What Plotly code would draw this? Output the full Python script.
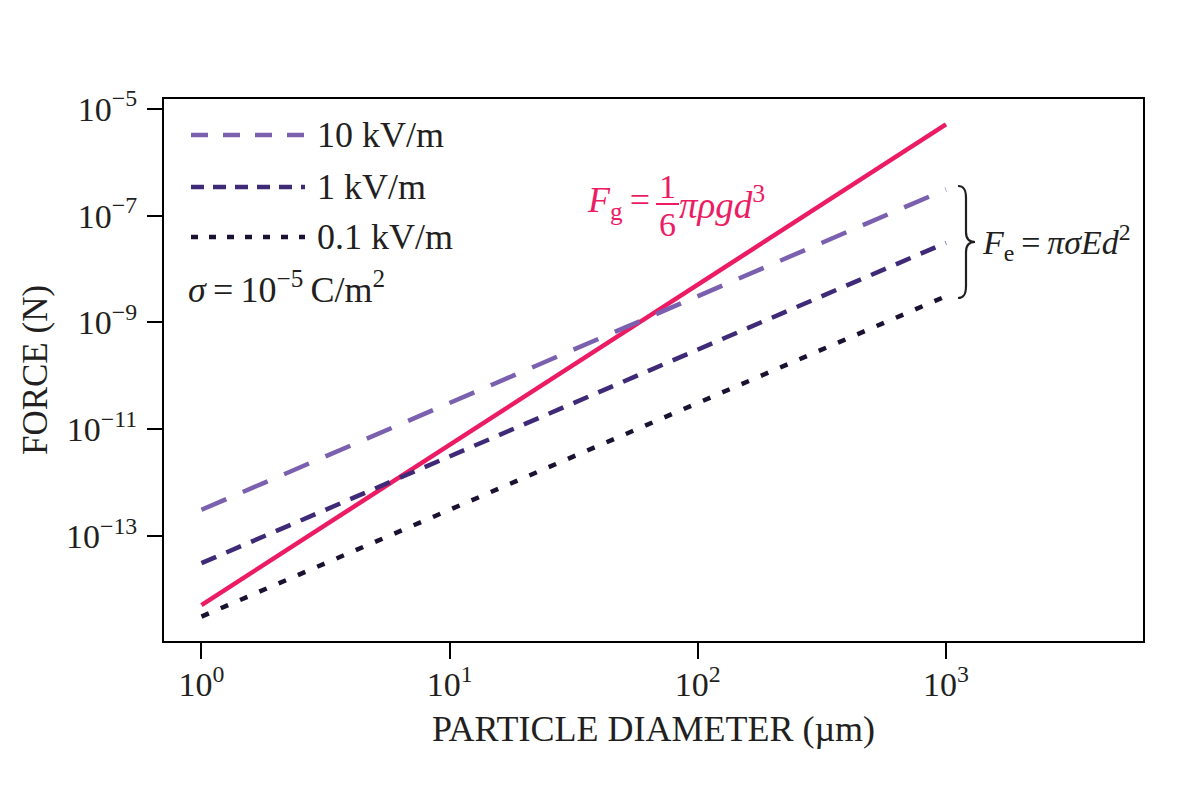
import plotly.graph_objects as go

# ---- data ----
diameter_um = [1, 1000]
force_gravity = [5.1e-15, 5.1e-6]
force_10kV = [3.1e-13, 3.1e-7]
force_1kV = [3.1e-14, 3.1e-8]
force_01kV = [3.1e-15, 3.1e-9]

x_tickvals = [1, 10, 100, 1000]
x_ticktext = ["10<sup>0</sup>", "10<sup>1</sup>", "10<sup>2</sup>", "10<sup>3</sup>"]
y_tickvals = [1e-13, 1e-11, 1e-9, 1e-7, 1e-5]
y_ticktext = ["10<sup>\u221213</sup>", "10<sup>\u221211</sup>", "10<sup>\u22129</sup>",
              "10<sup>\u22127</sup>", "10<sup>\u22125</sup>"]

series_names = ["10 kV/m", "1 kV/m", "0.1 kV/m"]

# ---- styles ----
FONT = "Liberation Serif"
TXT = "#231f20"
PINK = "#ec1c64"
C10 = "#7b60b0"
C1 = "#3f2a78"
C01 = "#1b1232"

W, H = 1200, 796
L, R, T, B = 164, 1143, 99, 641


def px(x):
    return (x - L) / (R - L)


def py(y):
    return (B - y) / (B - T)


fig = go.Figure()
fig.add_trace(go.Scatter(x=diameter_um, y=force_gravity, mode="lines",
                         line=dict(color=PINK, width=4.5), showlegend=False))
fig.add_trace(go.Scatter(x=diameter_um, y=force_10kV, mode="lines", name=series_names[0],
                         line=dict(color=C10, width=4.5, dash="27px,18px"), showlegend=False))
fig.add_trace(go.Scatter(x=diameter_um, y=force_1kV, mode="lines", name=series_names[1],
                         line=dict(color=C1, width=4.5, dash="16px,11px"), showlegend=False))
fig.add_trace(go.Scatter(x=diameter_um, y=force_01kV, mode="lines", name=series_names[2],
                         line=dict(color=C01, width=4.5, dash="8px,13px"), showlegend=False))

shapes = []
annotations = []

# manual legend
leg_rows = [(135, C10, "17px,15px"), (187, C1, "13px,9px"), (237, C01, "7px,11px")]
for (yy, col, dash), name in zip(leg_rows, series_names):
    shapes.append(dict(type="line", xref="paper", yref="paper",
                       x0=px(191), x1=px(305), y0=py(yy), y1=py(yy),
                       line=dict(color=col, width=4.5, dash=dash)))
    annotations.append(dict(xref="paper", yref="paper", x=px(315), y=py(yy),
                            xanchor="left", yanchor="middle", showarrow=False,
                            text=name, font=dict(family=FONT, size=36, color=TXT)))
annotations.append(dict(xref="paper", yref="paper", x=px(186), y=py(287),
                        xanchor="left", yanchor="middle", showarrow=False,
                        text="<i>\u03c3</i>\u2009=\u200910<sup>\u22125</sup>\u2009C/m<sup>2</sup>",
                        font=dict(family=FONT, size=36, color=TXT)))

# gravity formula
annotations.append(dict(xref="paper", yref="paper", x=px(652), y=py(203),
                        xanchor="right", yanchor="middle", showarrow=False,
                        text="<i>F</i><sub>g</sub>\u2009=",
                        font=dict(family=FONT, size=36, color=PINK)))
annotations.append(dict(xref="paper", yref="paper", x=px(667), y=py(186),
                        xanchor="center", yanchor="middle", showarrow=False,
                        text="1", font=dict(family=FONT, size=34, color=PINK)))
annotations.append(dict(xref="paper", yref="paper", x=px(667), y=py(225),
                        xanchor="center", yanchor="middle", showarrow=False,
                        text="6", font=dict(family=FONT, size=34, color=PINK)))
shapes.append(dict(type="line", xref="paper", yref="paper",
                   x0=px(656), x1=px(679), y0=py(204), y1=py(204),
                   line=dict(color=PINK, width=2)))
annotations.append(dict(xref="paper", yref="paper", x=px(677), y=py(203),
                        xanchor="left", yanchor="middle", showarrow=False,
                        text="<i>\u03c0\u03c1gd</i><sup>3</sup>",
                        font=dict(family=FONT, size=37, color=PINK)))

# electric formula + brace
annotations.append(dict(xref="paper", yref="paper", x=px(980), y=py(242),
                        xanchor="left", yanchor="middle", showarrow=False,
                        text="<i>F</i><sub>e</sub>\u2009=\u2009<i>\u03c0\u03c3Ed</i><sup>2</sup>",
                        font=dict(family=FONT, size=34, color=TXT)))
pts = [(958, 186), (964, 186), (966, 190), (966, 198), (966, 232), (966, 238), (969, 242), (975, 242),
       (969, 242), (966, 246), (966, 252), (966, 286), (966, 294), (964, 298), (958, 298)]
p = [(px(a), py(b)) for a, b in pts]
path = (f"M {p[0][0]},{p[0][1]} C {p[1][0]},{p[1][1]} {p[2][0]},{p[2][1]} {p[3][0]},{p[3][1]} "
        f"L {p[4][0]},{p[4][1]} C {p[5][0]},{p[5][1]} {p[6][0]},{p[6][1]} {p[7][0]},{p[7][1]} "
        f"C {p[8][0]},{p[8][1]} {p[9][0]},{p[9][1]} {p[10][0]},{p[10][1]} "
        f"L {p[11][0]},{p[11][1]} C {p[12][0]},{p[12][1]} {p[13][0]},{p[13][1]} {p[14][0]},{p[14][1]}")
shapes.append(dict(type="path", xref="paper", yref="paper", path=path,
                   line=dict(color=TXT, width=2.2)))

fig.update_layout(
    width=W, height=H,
    margin=dict(l=L, r=W - R, t=T, b=H - B, autoexpand=False),
    paper_bgcolor="white", plot_bgcolor="white",
    font=dict(family=FONT, color=TXT, size=34),
    shapes=shapes, annotations=annotations,
    showlegend=False,
)
fig.update_xaxes(type="log", range=[-0.151, 3.794],
                 tickvals=x_tickvals, ticktext=x_ticktext,
                 ticks="outside", ticklen=16, tickwidth=2, tickcolor="black",
                 ticklabelstandoff=-4,
                 showline=True, mirror=True, linecolor="black", linewidth=2,
                 showgrid=False, zeroline=False,
                 tickfont=dict(family=FONT, size=34, color=TXT),
                 title=dict(text="PARTICLE DIAMETER (\u00b5m)", standoff=14,
                            font=dict(family=FONT, size=36, color=TXT)))
fig.update_yaxes(type="log", range=[-14.966, -4.816],
                 tickvals=y_tickvals, ticktext=y_ticktext,
                 ticks="outside", ticklen=15, tickwidth=2, tickcolor="black",
                 ticklabelstandoff=3,
                 showline=True, mirror=True, linecolor="black", linewidth=2,
                 showgrid=False, zeroline=False,
                 tickfont=dict(family=FONT, size=34, color=TXT),
                 title=dict(text="FORCE (N)", standoff=8,
                            font=dict(family=FONT, size=35, color=TXT)))

fig.write_html("out.html", config={"displayModeBar": False},
               post_script="document.body.style.margin='0';")
